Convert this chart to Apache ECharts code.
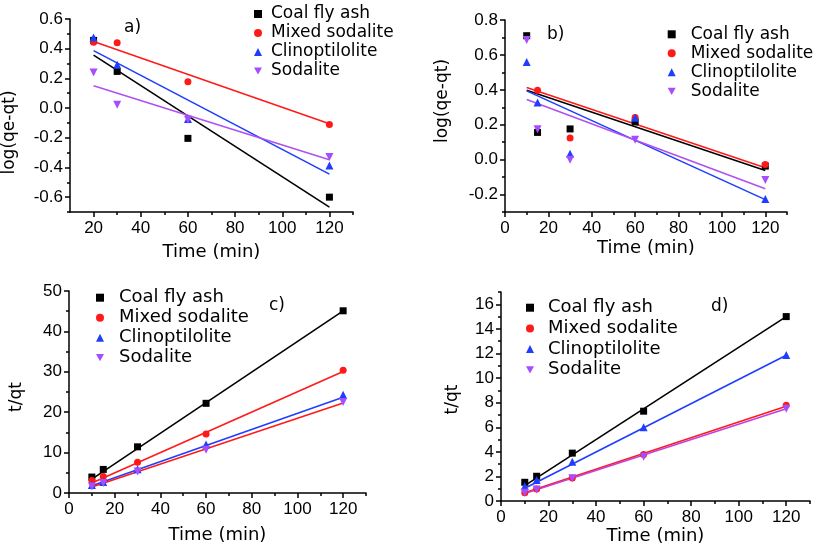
<!DOCTYPE html>
<html>
<head>
<meta charset="utf-8">
<script src="https://cdn.jsdelivr.net/npm/echarts@6/dist/echarts.min.js"></script>
<style>
  html, body { margin: 0; background: #fff; }
  #chart { width: 813px; height: 546px; }
</style>
</head>
<body>
<div id="chart"></div>
<script>
const names = ['Coal fly ash', 'Mixed sodalite', 'Clinoptilolite', 'Sodalite']

// a) log(qe-qt) against time
const timeA = [20, 30, 60, 120]
const aCoal = [0.456, 0.247, -0.204, -0.6]
const aMixed = [0.443, 0.44, 0.178, -0.11]
const aClino = [0.476, 0.292, -0.074, -0.387]
const aSoda = [0.24, 0.022, -0.079, -0.33]
// fitted lines: value at first and last fit time
const aFitTime = [20, 120]
const aFitCoal = [0.357, -0.667]
const aFitMixed = [0.449, -0.106]
const aFitClino = [0.387, -0.445]
const aFitSoda = [0.151, -0.348]

// b) log(qe-qt) against time
const timeB = [10, 15, 30, 60, 120]
const bCoal = [0.71, 0.156, 0.176, 0.216, -0.037]
const bMixed = [null, 0.398, 0.124, 0.241, -0.028]
const bClino = [0.559, 0.327, 0.034, 0.24, -0.225]
const bSoda = [0.685, 0.174, 0.0, 0.114, -0.116]
const bFitTime = [10, 120]
const bFitCoal = [0.398, -0.062]
const bFitMixed = [0.413, -0.047]
const bFitClino = [0.394, -0.229]
const bFitSoda = [0.344, -0.167]

// c) t/qt against time
const timeC = [10, 15, 30, 60, 120]
const cCoal = [3.95, 5.84, 11.43, 22.2, 45.1]
const cMixed = [3.1, 4.1, 7.6, 14.6, 30.4]
const cClino = [2.0, 2.7, 5.9, 12.0, 24.3]
const cSoda = [1.6, 2.5, 5.3, 10.7, 22.5]
const cFitTime = [10, 120]
const cFitCoal = [3.45, 45.1]
const cFitMixed = [2.5, 30.1]
const cFitClino = [1.8, 23.7]
const cFitSoda = [1.5, 22.3]

// d) t/qt against time
const timeD = [10, 15, 30, 60, 120]
const dCoal = [1.53, 2.02, 3.9, 7.31, 15.0]
const dMixed = [0.67, 0.99, 1.88, 3.79, 7.8]
const dClino = [1.21, 1.72, 3.2, 6.0, 11.88]
const dSoda = [0.67, 0.94, 1.86, 3.6, 7.5]
const dFitTime = [10, 120]
const dFitCoal = [1.26, 15.0]
const dFitMixed = [0.67, 7.72]
const dFitClino = [1.05, 11.86]
const dFitSoda = [0.62, 7.5]

// tick values
const xMajorA = [20, 40, 60, 80, 100, 120]
const xMinorA = [30, 50, 70, 90, 110, 130]
const xMajor = [0, 20, 40, 60, 80, 100, 120]
const xMinor = [10, 30, 50, 70, 90, 110, 130]
const yMajorA = [-0.6, -0.4, -0.2, 0, 0.2, 0.4, 0.6]
const yMinorA = [-0.7, -0.5, -0.3, -0.1, 0.1, 0.3, 0.5]
const yMajorB = [-0.2, 0, 0.2, 0.4, 0.6, 0.8]
const yMinorB = [-0.3, -0.1, 0.1, 0.3, 0.5, 0.7]
const yMajorC = [0, 10, 20, 30, 40, 50]
const yMinorC = [5, 15, 25, 35, 45]
const yMajorD = [0, 2, 4, 6, 8, 10, 12, 14, 16]
const yMinorD = [1, 3, 5, 7, 9, 11, 13, 15, 17]

const colors = ['#000000', '#ff1a1a', '#1f3dff', '#a64dff']
const symbols = ['rect', 'circle', 'triangle', 'path://M0,0L10,0L5,9Z']
const symbolSizes = [7, 7, 8, 8]

const pairs = (xs, ys) => xs.map((x, i) => [x, ys[i]]).filter(p => p[1] !== null)

const panels = [
  {
    label: 'a)', labelPos: [124, 28],
    grid: { left: 70, top: 19, width: 283, height: 193 },
    x: { min: 10, max: 130, major: xMajorA, minor: xMinorA, gap: 31 },
    y: { min: -0.7, max: 0.6, major: yMajorA, minor: yMinorA, name: 'log(qe-qt)', gap: 52, pad: [0, 34, 0, 0], dec: 1 },
    time: timeA, points: [aCoal, aMixed, aClino, aSoda],
    fitTime: aFitTime, fits: [aFitCoal, aFitMixed, aFitClino, aFitSoda],
    fitColors: ['#000000', '#ff1a1a', '#1f3dff', '#b050f0'],
    legend: { left: 249, top: 0.5, gap: 2, size: 17, pad: 4 }
  },
  {
    label: 'b)', labelPos: [547, 35],
    grid: { left: 505, top: 20, width: 282, height: 192 },
    x: { min: 0, max: 130, major: xMajor, minor: xMinor, gap: 27 },
    y: { min: -0.3, max: 0.8, major: yMajorB, minor: yMinorB, name: 'log(qe-qt)', gap: 54, pad: [0, 0, 0, 30], dec: 1 },
    time: timeB, points: [bCoal, bMixed, bClino, bSoda],
    fitTime: bFitTime, fits: [bFitCoal, bFitMixed, bFitClino, bFitSoda],
    fitColors: ['#000000', '#ff1a1a', '#1f3dff', '#b050f0'],
    legend: { left: 662.7, top: 20.8, gap: 2, size: 17, pad: 10 }
  },
  {
    label: 'c)', labelPos: [269, 306],
    grid: { left: 69, top: 291, width: 297, height: 202 },
    x: { min: 0, max: 130, major: xMajor, minor: xMinor, gap: 33 },
    y: { min: 0, max: 50, major: yMajorC, minor: yMinorC, name: 't/qt', gap: 44, pad: [0, 10, 0, 0], dec: 0 },
    time: timeC, points: [cCoal, cMixed, cClino, cSoda],
    fitTime: cFitTime, fits: [cFitCoal, cFitMixed, cFitClino, cFitSoda],
    fitColors: ['#000000', '#ff1a1a', '#1f3dff', '#ff1a1a'],
    legend: { left: 91, top: 283.7, gap: 2, size: 18, pad: 10 }
  },
  {
    label: 'd)', labelPos: [711, 307.5],
    grid: { left: 501, top: 292, width: 309, height: 210 },
    x: { min: 0, max: 130, major: xMajor, minor: xMinor, gap: 22 },
    y: { min: 0, max: 17, major: yMajorD, minor: yMinorD, name: 't/qt', gap: 40, pad: [0, 6, 0, 0], dec: 0 },
    time: timeD, points: [dCoal, dMixed, dClino, dSoda],
    fitTime: dFitTime, fits: [dFitCoal, dFitMixed, dFitClino, dFitSoda],
    fitColors: ['#000000', '#ff1a1a', '#1f3dff', '#c040e0'],
    legend: { left: 521, top: 293.7, gap: 2.7, size: 18, pad: 9 }
  }
]

const axisColor = '#000'
const labelFont = { color: '#000', fontFamily: 'Liberation Sans', fontSize: 17 }
const nameFont = { color: '#000', fontFamily: 'DejaVu Sans', fontSize: 18 }

const grids = []
const xAxes = []
const yAxes = []
const legends = []
const graphics = []
const series = []

panels.forEach((p, i) => {
  grids.push(p.grid)
  // main axes with major ticks and labels
  xAxes.push({
    type: 'value', gridIndex: i, position: 'bottom', min: p.x.min, max: p.x.max,
    name: 'Time (min)', nameLocation: 'middle', nameGap: p.x.gap, nameTextStyle: nameFont,
    axisLine: { show: true, onZero: false, lineStyle: { color: axisColor, width: 1.5 } },
    axisTick: { show: true, length: 5, customValues: p.x.major, lineStyle: { color: axisColor, width: 1.5 } },
    axisLabel: Object.assign({ customValues: p.x.major, margin: 8 }, labelFont),
    splitLine: { show: false }
  })
  // overlay axis with minor ticks only
  xAxes.push({
    type: 'value', gridIndex: i, position: 'bottom', min: p.x.min, max: p.x.max,
    axisLine: { show: false, onZero: false },
    axisTick: { show: true, length: 3, customValues: p.x.minor, lineStyle: { color: axisColor, width: 1.5 } },
    axisLabel: { show: false },
    splitLine: { show: false }
  })
  yAxes.push({
    type: 'value', gridIndex: i, position: 'left', min: p.y.min, max: p.y.max,
    name: p.y.name, nameLocation: 'middle', nameGap: p.y.gap,
    nameTextStyle: Object.assign({ padding: p.y.pad }, nameFont, { fontSize: 17 }),
    axisLine: { show: true, onZero: false, lineStyle: { color: axisColor, width: 1.5 } },
    axisTick: { show: true, length: 5, customValues: p.y.major, lineStyle: { color: axisColor, width: 1.5 } },
    axisLabel: Object.assign({
      customValues: p.y.major, margin: 7,
      formatter: v => Number(v).toFixed(p.y.dec)
    }, labelFont),
    splitLine: { show: false }
  })
  yAxes.push({
    type: 'value', gridIndex: i, position: 'left', min: p.y.min, max: p.y.max,
    axisLine: { show: false, onZero: false },
    axisTick: { show: true, length: 3, customValues: p.y.minor, lineStyle: { color: axisColor, width: 1.5 } },
    axisLabel: { show: false },
    splitLine: { show: false }
  })

  legends.push({
    orient: 'vertical', left: p.legend.left, top: p.legend.top,
    itemWidth: 8, itemHeight: 8, itemGap: p.legend.gap, selectedMode: false,
    data: names,
    textStyle: {
      color: '#000', fontFamily: 'DejaVu Sans', fontSize: p.legend.size,
      lineHeight: p.legend.size, padding: [0, 0, 0, p.legend.pad]
    }
  })

  graphics.push({
    type: 'text', left: p.labelPos[0], top: p.labelPos[1] - 9,
    style: { text: p.label, fill: '#000', font: '17px DejaVu Sans' }
  })

  // fitted lines under the points
  p.fits.forEach((f, k) => {
    series.push({
      name: names[k] + ' fit', type: 'line', xAxisIndex: 2 * i, yAxisIndex: 2 * i,
      data: pairs(p.fitTime, f), showSymbol: false, silent: true, z: 2,
      lineStyle: { color: p.fitColors[k], width: 1.6 }
    })
  })
  p.points.forEach((v, k) => {
    series.push({
      name: names[k], type: 'scatter', xAxisIndex: 2 * i, yAxisIndex: 2 * i,
      data: pairs(p.time, v), symbol: symbols[k], symbolSize: symbolSizes[k], z: 3,
      itemStyle: { color: colors[k], opacity: 1 }
    })
  })
})

const myChart = echarts.init(document.getElementById('chart'))
myChart.setOption({
  animation: false,
  backgroundColor: '#fff',
  grid: grids,
  xAxis: xAxes,
  yAxis: yAxes,
  legend: legends,
  graphic: graphics,
  series: series
})
</script>
</body>
</html>
